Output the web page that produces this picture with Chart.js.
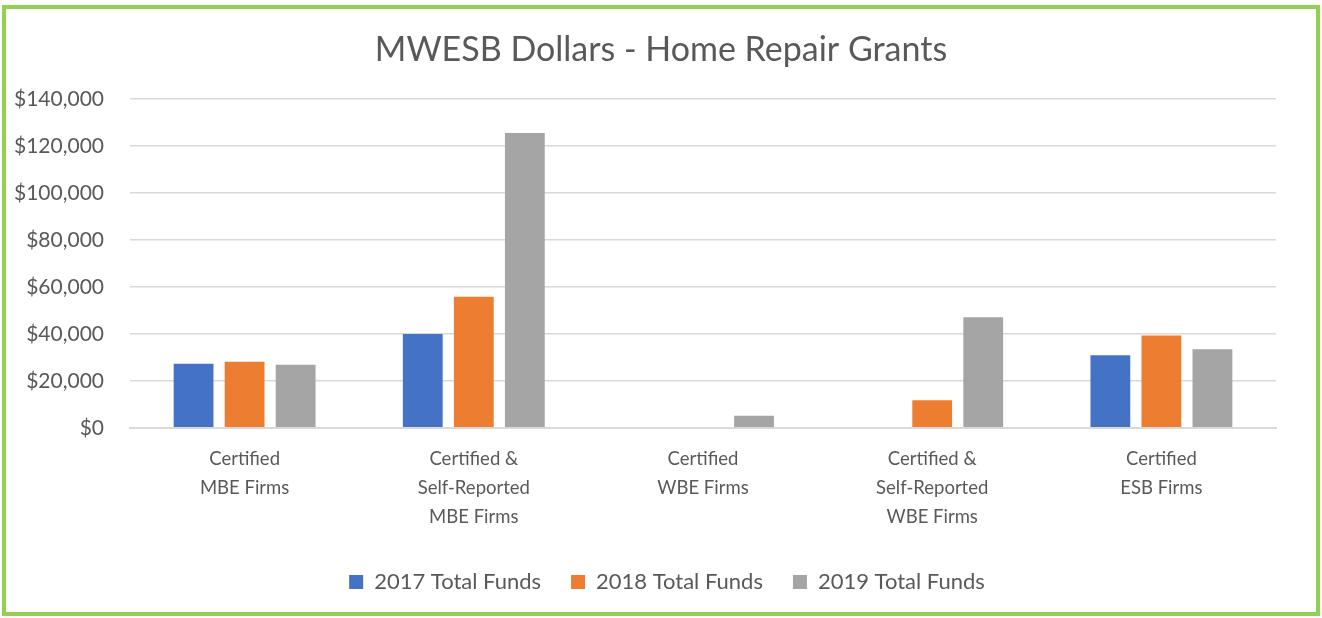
<!DOCTYPE html>
<html>
<head>
<meta charset="utf-8">
<script src="https://cdn.jsdelivr.net/npm/chart.js@4"></script>
<style>
  html, body { margin: 0; padding: 0; background: #fff; }
  #frame {
    position: absolute; left: 2px; top: 5px;
    width: 1310px; height: 603px;
    border: 4px solid #92D050; background: #fff;
  }
  #wrap { position: absolute; left: 0; top: 0; width: 1310px; height: 603px; }
</style>
</head>
<body>
<div id="frame"><div id="wrap"><canvas id="mycanvas"></canvas></div></div>
<script>
// categories and values
var categories = [
  ["Certified", "MBE Firms"],
  ["Certified &", "Self-Reported", "MBE Firms"],
  ["Certified", "WBE Firms"],
  ["Certified &", "Self-Reported", "WBE Firms"],
  ["Certified", "ESB Firms"]
];
var funds2017 = [27300, 39900, null, null, 30900];
var funds2018 = [28100, 55800, null, 11700, 39300];
var funds2019 = [26800, 125400, 5200, 47100, 33400];
var yTicks = [0, 20000, 40000, 60000, 80000, 100000, 120000, 140000];

var textColor = '#595959';
var fontFamily = 'Lato, "Open Sans", sans-serif';

// title and legend sit centred on the whole frame, not on the space left of the padding
var centerBoxes = {
  id: 'centerBoxes',
  afterLayout: function (chart) {
    chart.titleBlock.left = 40;
    chart.legend.left = 52;
  }
};

var chartdata = {
  labels: categories,
  datasets: [
    { label: '2017 Total Funds', backgroundColor: '#4472C4', data: funds2017 },
    { label: '2018 Total Funds', backgroundColor: '#ED7D31', data: funds2018 },
    { label: '2019 Total Funds', backgroundColor: '#A5A5A5', data: funds2019 }
  ]
};

var ctx = document.getElementById('mycanvas');
var barGraph = new Chart(ctx, {
  type: 'bar',
  data: chartdata,
  plugins: [centerBoxes],
  options: {
    responsive: true,
    maintainAspectRatio: false,
    animation: false,
    layout: { padding: { left: 4, right: 40, top: 14, bottom: 9 } },
    datasets: { bar: { categoryPercentage: 0.668, barPercentage: 0.78 } },
    plugins: {
      title: {
        display: true,
        text: 'MWESB Dollars - Home Repair Grants',
        color: textColor,
        font: { family: fontFamily, size: 34, weight: 'normal' },
        padding: { top: 7, bottom: 28 }
      },
      legend: {
        position: 'bottom',
        labels: {
          color: textColor,
          font: { family: fontFamily, size: 22 },
          boxWidth: 14, boxHeight: 14, padding: 30
        }
      },
      tooltip: { enabled: false }
    },
    scales: {
      x: {
        grid: { display: false },
        border: { color: '#D9D9D9', width: 2 },
        ticks: {
          color: textColor,
          font: { family: fontFamily, size: 18.5, lineHeight: 1.57 },
          padding: 9, maxRotation: 0, autoSkip: false
        }
      },
      y: {
        min: 0, max: 140000,
        afterBuildTicks: function (axis) {
          axis.ticks = yTicks.map(function (v) { return { value: v }; });
        },
        afterFit: function (axis) { axis.width = 120; },
        grid: { color: '#D9D9D9', lineWidth: 1.5, drawTicks: false },
        border: { display: false },
        ticks: {
          color: textColor,
          font: { family: fontFamily, size: 21 },
          padding: 26,
          callback: function (v) { return '$' + v.toLocaleString('en-US'); }
        }
      }
    }
  }
});
</script>
</body>
</html>
